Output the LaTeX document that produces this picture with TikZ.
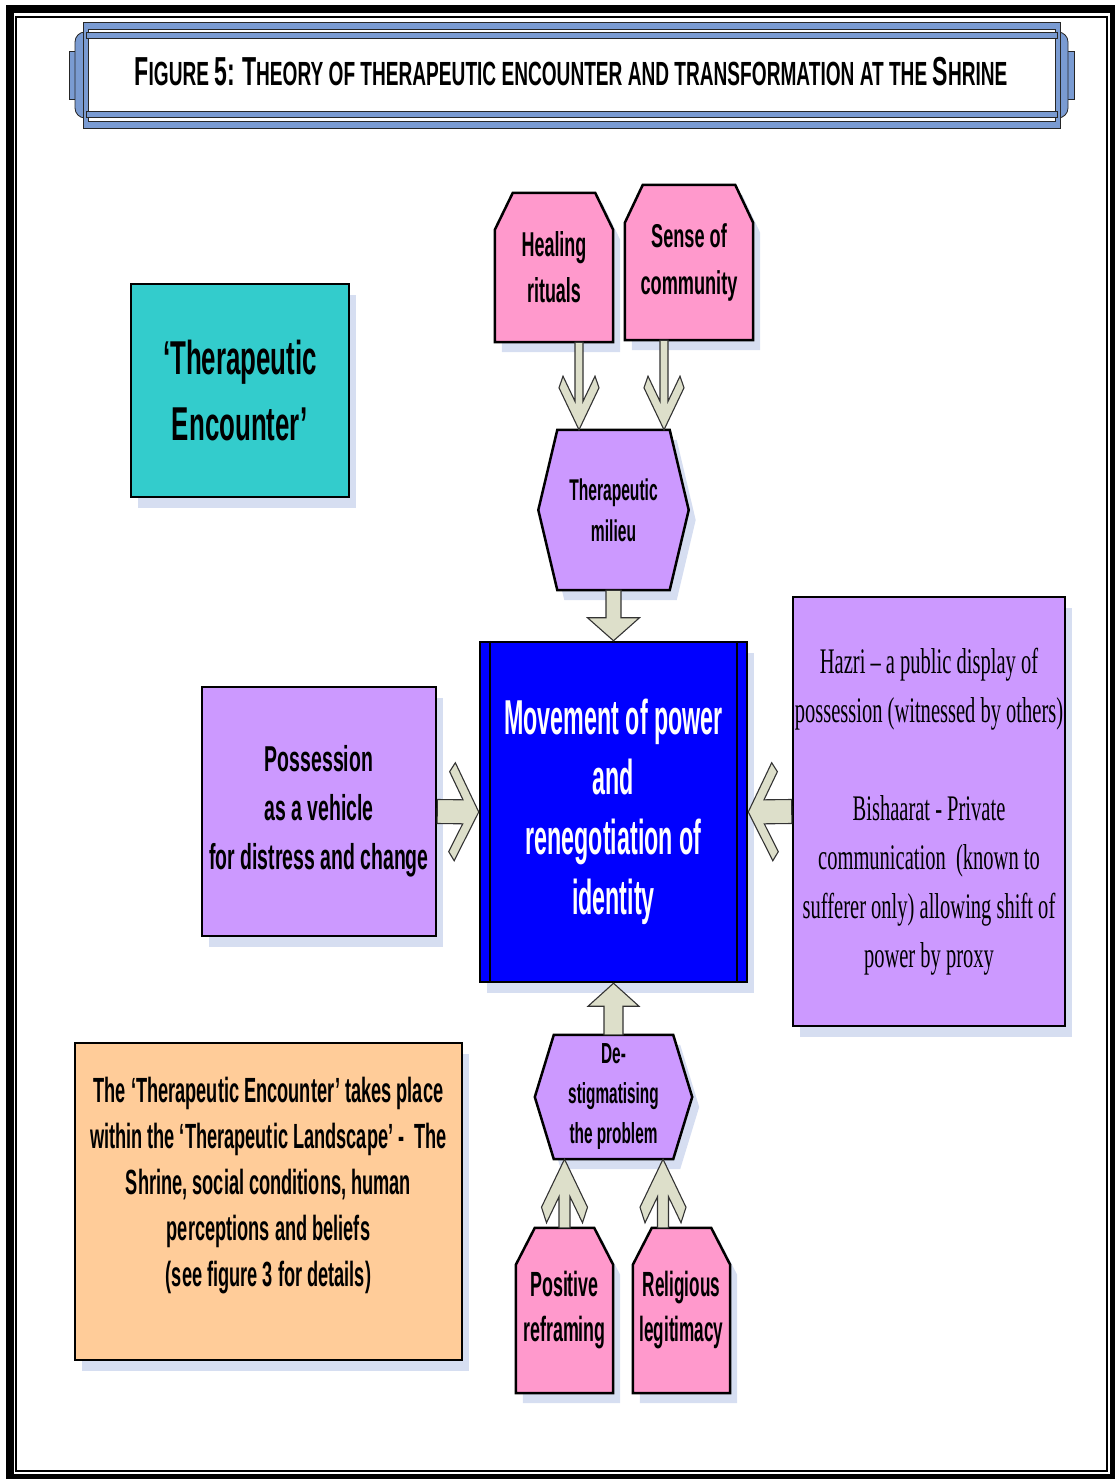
\documentclass[tikz,border=0pt]{standalone}
\usepackage{fontspec}
\setmainfont{Liberation Sans}
\newfontfamily\timesnarrow{Liberation Serif}
\usetikzlibrary{calc,shadows,backgrounds}

\definecolor{tealbox}{HTML}{33CCCC}
\definecolor{pinkbox}{HTML}{FF99CC}
\definecolor{lilacbox}{HTML}{CC99FF}
\definecolor{peachbox}{HTML}{FFCC99}
\definecolor{corebox}{HTML}{0000FF}
\definecolor{arrowfill}{RGB}{221,223,202}
\definecolor{bandblue}{RGB}{122,155,210}
\definecolor{shadowblue}{RGB}{214,222,241}

\newcommand\boxfont[3]{\fontsize{#1}{#2}\selectfont\bfseries\addfontfeatures{FakeStretch=#3}}
\newcommand\titlecap[1]{{\fontsize{40.5}{41}\selectfont #1}}

% outlines built on the corners of a node
\newcommand\housepath[3]{(#1.south west) -- ([shift={(0,#3)}]#1.north west) -- ([shift={(#2,0)}]#1.north west) -- ([shift={(-#2,0)}]#1.north east) -- ([shift={(0,#3)}]#1.north east) -- (#1.south east) -- cycle}
\newcommand\hexpath[2]{(#1.west) -- ([shift={(#2,0)}]#1.north west) -- ([shift={(-#2,0)}]#1.north east) -- (#1.east) -- ([shift={(-#2,0)}]#1.south east) -- ([shift={(#2,0)}]#1.south west) -- cycle}

% direction and length from #1 to #2
\newcommand\arrowframe[2]{%
  \path let \p1=(#1), \p2=(#2) in \pgfextra{%
    \pgfmathsetmacro\arrang{atan2((\y2)-(\y1),(\x2)-(\x1))}\xdef\arrang{\arrang}%
    \pgfmathsetmacro\arrlen{veclen((\x2)-(\x1),(\y2)-(\y1))}\xdef\arrlen{\arrlen}};}

% source, tip, shaft half, head half, head length, notch, cap
\newcommand\chevarrow[7]{%
  \arrowframe{#1}{#2}
  \filldraw[blockarrow, shift={(#2)}, rotate=\arrang]
    (-\arrlen pt,#3pt) -- ({-(#6+#5*#3/#4)*1pt},#3pt)
    -- ({-(#6+#5*(#4-#7)/#4)*1pt},{(#4-#7)*1pt}) -- (-#5pt,#4pt) -- (0pt,0pt)
    -- (-#5pt,-#4pt) -- ({-(#6+#5*(#4-#7)/#4)*1pt},{-(#4-#7)*1pt})
    -- ({-(#6+#5*#3/#4)*1pt},-#3pt) -- (-\arrlen pt,-#3pt) -- cycle;}

% source, tip, shaft half, head half, head length
\newcommand\headarrow[5]{%
  \arrowframe{#1}{#2}
  \filldraw[blockarrow, shift={(#2)}, rotate=\arrang]
    (-\arrlen pt,#3pt) -- (-#5pt,#3pt) -- (-#5pt,#4pt) -- (0pt,0pt)
    -- (-#5pt,-#4pt) -- (-#5pt,-#3pt) -- (-\arrlen pt,-#3pt) -- cycle;}

\tikzset{
  outline/.style={draw=black, line width=2.5pt},
  boxshadow/.style={drop shadow={shadow xshift=7pt, shadow yshift=-11pt, fill=shadowblue, opacity=1}},
  flatbox/.style={outline, boxshadow, inner sep=0pt, align=center},
  shapetext/.style={inner sep=0pt, align=center},
  blockarrow/.style={fill=arrowfill, draw=black!80, line width=1.1pt, line join=miter},
  band/.style={fill=bandblue, draw=black!85, line width=0.8pt}
}

\begin{document}
\begin{tikzpicture}[x=1pt, y=-1pt]
  \useasboundingbox (0,0) rectangle (1115,1479);
  % page frame
  \draw[line width=8pt] (9.5,9.5) rectangle (1113.5,1477.5);
  \draw[line width=2pt] (16,17) rectangle (1107,1471);

  % title scroll
  \filldraw[band] (69,51) rectangle (78,99);
  \filldraw[band] (1065,51) rectangle (1074,99);
  \filldraw[band, rounded corners=10pt] (75,32) rectangle (1068,118);
  \filldraw[band] (83,22) rectangle (1060,128);
  \filldraw[fill=white, draw=black!85, line width=0.8pt] (88,29) rectangle (1055,121);
  \filldraw[band] (86,32) rectangle (1057,38);
  \filldraw[band] (86,111) rectangle (1057,117);
  \node[inner sep=0pt, font=\boxfont{33.5}{40}{0.57}] (title) at (571,72)
    {\titlecap{F}IGURE \titlecap{5:} \titlecap{T}HEORY OF THERAPEUTIC ENCOUNTER AND TRANSFORMATION AT THE \titlecap{S}HRINE};

  % boxes
  \node[flatbox, fill=tealbox, minimum width=218pt, minimum height=213pt,
        font=\boxfont{47.5}{66}{0.545}] (encounter) at (240,390.5) {‘Therapeutic\\Encounter’};
  \node[shapetext, minimum width=118pt, minimum height=149pt,
        font=\boxfont{34.5}{46}{0.52}] (heal) at (554,267.5) {Healing\\rituals};
  \node[shapetext, minimum width=128pt, minimum height=155pt,
        font=\boxfont{33}{47}{0.55}] (sense) at (689,262.5) {Sense of\\community};
  \node[shapetext, minimum width=150pt, minimum height=160pt,
        font=\boxfont{30}{41}{0.52}] (milieu) at (613.5,510) {Therapeutic\\milieu};
  \node[flatbox, fill=corebox, text=white, minimum width=267pt, minimum height=340pt,
        font=\boxfont{49}{60}{0.475}] (move) at (613.5,812)
    {Movement of power\\and\\renegotiation of\\identity};
  \node[flatbox, fill=lilacbox, minimum width=234pt, minimum height=249pt,
        font=\boxfont{36}{49}{0.54}] (poss) at (319,811.5) {Possession\\as a vehicle\\for distress and change};
  \node[flatbox, fill=lilacbox, minimum width=272pt, minimum height=429pt,
        font=\timesnarrow\fontsize{36}{49}\selectfont\addfontfeatures{FakeStretch=0.57}] (hazri) at (929,811.5)
    {Hazri – a public display of\\possession (witnessed by others)\\[49pt]Bishaarat - Private\\communication~ (known to\\sufferer only) allowing shift of\\power by proxy};
  \node[shapetext, minimum width=157pt, minimum height=124pt,
        font=\boxfont{29}{40}{0.53}] (destig) at (613.5,1097) {De-\\stigmatising\\the problem};
  \node[shapetext, minimum width=97pt, minimum height=165pt,
        font=\boxfont{35}{45}{0.51}] (pos) at (564.5,1310.5) {Positive\\reframing};
  \node[shapetext, minimum width=97pt, minimum height=165pt,
        font=\boxfont{35}{45}{0.49}] (rel) at (681.5,1310.5) {Religious\\legitimacy};
  \node[flatbox, fill=peachbox, minimum width=387pt, minimum height=317pt] (landscape) at (268.5,1201.5) {};
  \node[shapetext, font=\boxfont{35}{46}{0.52}] (landscapetext) at ([yshift=16pt]landscape.center)
    {The ‘Therapeutic Encounter’ takes place\\within the ‘Therapeutic Landscape’ -~ The\\Shrine, social conditions, human\\perceptions and beliefs\\(see figure 3 for details)};

  % inner rules of the core box
  \draw[line width=2pt] ([xshift=11pt]move.north west) -- ([xshift=11pt]move.south west);
  \draw[line width=2pt] ([xshift=-11pt]move.north east) -- ([xshift=-11pt]move.south east);

  % shaped outlines behind the texts
  \begin{scope}[on background layer]
    \foreach \n/\cx/\cy in {heal/18/37, sense/18/38, pos/19/37, rel/19/37} {
      \fill[shadowblue, transform canvas={shift={(7pt,-10pt)}}] \housepath{\n}{\cx}{\cy};
      \filldraw[fill=pinkbox, outline] \housepath{\n}{\cx}{\cy};
    }
    \foreach \n in {milieu, destig} {
      \fill[shadowblue, transform canvas={shift={(7pt,-10pt)}}] \hexpath{\n}{19};
      \filldraw[fill=lilacbox, outline] \hexpath{\n}{19};
    }
  \end{scope}

  % connectors
  \coordinate (healout) at ([xshift=25pt]heal.south);
  \coordinate (senseout) at ([xshift=-25pt]sense.south);
  \coordinate (relout) at ([xshift=-18.5pt]rel.north);
  \chevarrow{healout}{healout |- milieu.north}{4}{20}{42}{20}{4}
  \chevarrow{senseout}{senseout |- milieu.north}{4}{20}{42}{20}{4}
  \headarrow{milieu.south}{move.north}{7.5}{26}{23}
  \chevarrow{poss.east}{move.west}{12}{49}{24}{10}{9}
  \chevarrow{hazri.west}{move.east}{12}{49}{24}{10}{9}
  \headarrow{destig.north}{move.south}{9.5}{25.5}{23}
  \chevarrow{pos.north}{pos.north |- destig.south}{5.5}{23}{48}{26}{5}
  \chevarrow{relout}{relout |- destig.south}{5.5}{23}{48}{26}{5}
\end{tikzpicture}
\end{document}
